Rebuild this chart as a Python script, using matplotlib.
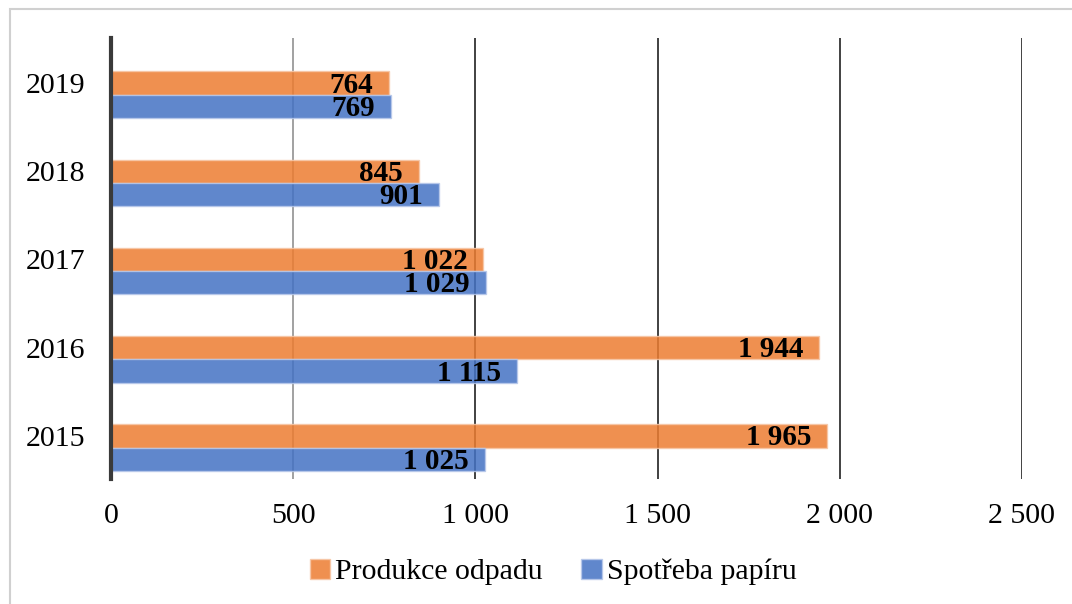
import matplotlib
matplotlib.use("Agg")
import matplotlib.pyplot as plt
from matplotlib.patches import Rectangle
from matplotlib.ticker import FuncFormatter

years = ["2015", "2016", "2017", "2018", "2019"]
produkce_odpadu = [1965, 1944, 1022, 845, 764]
spotreba_papiru = [1025, 1115, 1029, 901, 769]
x_ticks = [0, 500, 1000, 1500, 2000, 2500]

plt.rcParams['font.family'] = ['Liberation Serif', 'DejaVu Serif']

W, H = 1072, 604
fig = plt.figure(figsize=(W / 100, H / 100), dpi=100)
ax = fig.add_axes([111 / W, 1 - 479 / H, (1022 - 111) / W, (479 - 38) / H])

fig.patches.append(Rectangle((10 / W, -0.1), 1.2, 1.1 - 9 / H,
                             transform=fig.transFigure, fill=False,
                             edgecolor='#d0d0d0', linewidth=1.5))

orange = '#ED7D31'
blue = '#4472C4'
h = 0.265
pos = list(range(len(years)))
yo = [p + h / 2 for p in pos]
yb = [p - h / 2 for p in pos]

for xv in x_ticks[1:]:
    ax.axvline(xv, color='#9a9a9a' if xv == 500 else '#333333', lw=1.3, zorder=1)

bo = ax.barh(yo, produkce_odpadu, height=h, color=orange, alpha=0.85,
             edgecolor='#f6c6a6', linewidth=1, zorder=2, label='Produkce odpadu')
bb = ax.barh(yb, spotreba_papiru, height=h, color=blue, alpha=0.85,
             edgecolor='#b8c8ea', linewidth=1, zorder=2, label='Spotřeba papíru')

def fmt(v):
    return f"{int(v):,}".replace(",", " ")

for ys, vals in ((yo, produkce_odpadu), (yb, spotreba_papiru)):
    for y, v in zip(ys, vals):
        ax.annotate(fmt(v), xy=(v, y), xytext=(-11.5, -1.5), textcoords='offset points',
                    ha='right', va='center', fontsize=21, fontweight='bold',
                    color='black', zorder=3)

ax.set_xlim(0, 2500)
ax.set_ylim(-0.357, 4.643)
ax.set_xticks(x_ticks)
ax.xaxis.set_major_formatter(FuncFormatter(lambda v, p: fmt(v)))
ax.set_yticks(yo)
ax.set_yticklabels(years)
ax.tick_params(axis='both', length=0, labelsize=21.5, colors='black')
ax.tick_params(axis='x', pad=17)
ax.tick_params(axis='y', pad=18.5)

for s in ['top', 'right', 'bottom']:
    ax.spines[s].set_visible(False)
ax.spines['left'].set_color('#3a3a3a')
ax.spines['left'].set_linewidth(3)
ax.spines['left'].set_zorder(4)

fig.legend(handles=[bo, bb], loc='center', bbox_to_anchor=(553 / W, 1 - 572 / H),
           ncol=2, frameon=False, fontsize=21.5, handlelength=0.7, handleheight=0.7,
           handletextpad=0.15, columnspacing=1.3)

fig.savefig('out.png', dpi=100)
